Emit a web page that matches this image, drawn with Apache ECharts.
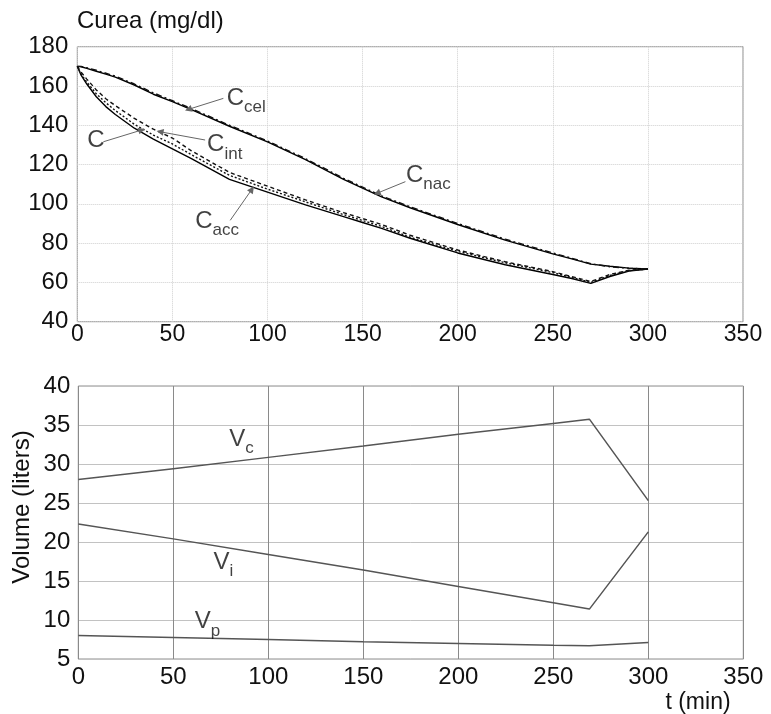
<!DOCTYPE html>
<html>
<head>
<meta charset="utf-8">
<script src="https://cdn.jsdelivr.net/npm/echarts@6/dist/echarts.min.js"></script>
<style>html,body{margin:0;padding:0;background:#fff;}#c{width:771px;height:714px;}</style>
</head>
<body>
<div id="c"></div>
<script>
// ---- top panel: urea concentration (mg/dl) ----
var tC = [0, 2, 5, 10, 15, 20, 30, 40, 50, 60, 80, 100, 120, 140, 150, 160, 175, 200, 225, 250, 260, 270, 280, 290, 300];
var C_main = [170, 165.5, 161, 154.5, 149.5, 145.5, 138.5, 133, 128, 123, 112.5, 106, 99.5, 93.5, 90.5, 87.5, 82.5, 75, 69, 64, 62, 59.5, 63, 65.8, 66.8];
var C_int  = [170, 167, 163.5, 158, 153.5, 150, 143.5, 138, 133.5, 127, 116, 109, 102, 95.5, 92.5, 89.5, 84, 76.5, 70.5, 65.5, 63, 60.5, 64, 66.2, 66.8];
var C_acc  = [170, 166, 162, 156, 151.5, 147.5, 140.5, 135, 130.5, 125, 114.5, 107.5, 101, 94.5, 91.5, 88.5, 83, 75.8, 70, 65, 62.5, 60, 63.5, 66, 66.8];
var C_nac  = [170, 169.8, 169, 167.5, 166, 164.5, 160.5, 155.8, 152, 148, 139.5, 131.5, 122.5, 112.5, 108, 103.5, 98, 89.5, 81.5, 74.5, 72, 69.3, 68.2, 67.3, 66.8];
var C_cel  = [170, 170, 169.3, 168, 166.5, 165, 161, 156.5, 152.5, 148.5, 140, 132, 123, 113, 108.5, 104, 98.5, 90, 82, 75, 72.3, 69.5, 68, 67.2, 66.8];

// ---- bottom panel: volumes (liters) ----
var tV = [0, 50, 100, 150, 200, 250, 269, 300];
var V_c = [28, 29.4, 30.85, 32.3, 33.8, 35.2, 35.75, 25.3];
var V_i = [22.3, 20.4, 18.4, 16.4, 14.3, 12.2, 11.4, 21.3];
var V_p = [8.0, 7.75, 7.5, 7.2, 7.0, 6.75, 6.7, 7.1];

var xTicks = [0, 50, 100, 150, 200, 250, 300, 350];

// annotation labels [t, value, main, subscript]
var topLabels = [
  [88.8, 152.3, 'C', 'cel'],
  [77.5, 128.7, 'C', 'int'],
  [9.8, 131, 'C', ''],
  [73.5, 89.7, 'C', 'acc'],
  [184.6, 113.1, 'C', 'nac']
];
// annotation arrows [fromT, fromV, toT, toV]
var topArrows = [
  [76.8, 153.7, 58.4, 148.1],
  [67.2, 132.5, 43.5, 136.7],
  [13.7, 131.6, 33.9, 137.6],
  [80.4, 91.6, 91.8, 107.4],
  [172.5, 111.3, 157.6, 105.4]
];
var botLabels = [
  [85.9, 32.8, 'V', 'c'],
  [76.4, 17.05, 'V', 'i'],
  [68, 9.4, 'V', 'p']
];

var FONT = 'Liberation Sans, Arial, sans-serif';
function pairs(t, v) { return t.map(function (x, i) { return [x, v[i]]; }); }

function lineSeries(name, t, v, idx, color, type, width) {
  return {
    name: name, type: 'line', xAxisIndex: idx, yAxisIndex: idx,
    data: pairs(t, v), showSymbol: false, symbol: 'none', smooth: false,
    lineStyle: { color: color, width: width, type: type }, silent: true, z: 3
  };
}

var rich = {
  m: { fontSize: 24, fontFamily: FONT, color: '#111', verticalAlign: 'top', padding: [0, 0, 6, 0] },
  s: { fontSize: 17, fontFamily: FONT, color: '#111', verticalAlign: 'bottom' }
};
function labelSeries(data, idx, arrows) {
  var s = {
    type: 'scatter', xAxisIndex: idx, yAxisIndex: idx, symbolSize: 1,
    itemStyle: { color: 'rgba(0,0,0,0)' }, silent: true, z: 5,
    data: data,
    label: {
      show: true, position: 'inside',
      formatter: function (p) {
        return '{m|' + p.data[2] + '}' + (p.data[3] ? '{s|' + p.data[3] + '}' : '');
      },
      rich: rich
    }
  };
  if (arrows) {
    s.markLine = {
      silent: true, animation: false,
      symbol: ['none', 'triangle'], symbolSize: 7,
      label: { show: false },
      lineStyle: { color: '#666', width: 1, type: 'solid' },
      data: arrows.map(function (a) { return [{ coord: [a[0], a[1]] }, { coord: [a[2], a[3]] }]; })
    };
  }
  return s;
}

var chart = echarts.init(document.getElementById('c'), null, { renderer: 'canvas' });
chart.setOption({
  animation: false,
  backgroundColor: '#fff',
  grid: [
    { left: 77.3, top: 46.7, width: 665.7, height: 275, show: true, borderColor: '#8c8c8c', borderWidth: 1, backgroundColor: 'transparent' },
    { left: 78.3, top: 386, width: 665, height: 273, show: true, borderColor: '#8c8c8c', borderWidth: 1, backgroundColor: 'transparent' }
  ],
  xAxis: [
    { gridIndex: 0, type: 'value', min: 0, max: 350, interval: 50,
      axisLine: { show: false }, axisTick: { show: false },
      axisLabel: { fontSize: 23, fontFamily: 'Liberation Sans Narrow, Arial Narrow, ' + FONT, color: '#111', margin: 1 },
      splitLine: { show: true, lineStyle: { color: '#cfcfcf', type: 'dotted', width: 1 } } },
    { gridIndex: 1, type: 'value', min: 0, max: 350, interval: 50,
      axisLine: { show: false }, axisTick: { show: false },
      axisLabel: { fontSize: 24, fontFamily: FONT, color: '#111', margin: 6 },
      splitLine: { show: true, lineStyle: { color: '#8a8a8a', type: 'solid', width: 1 } } }
  ],
  yAxis: [
    { gridIndex: 0, type: 'value', min: 40, max: 180, interval: 20,
      axisLine: { show: false }, axisTick: { show: false },
      axisLabel: { fontSize: 24, fontFamily: FONT, color: '#111', margin: 9 },
      splitLine: { show: true, lineStyle: { color: '#cfcfcf', type: 'dotted', width: 1 } } },
    { gridIndex: 1, type: 'value', min: 5, max: 40, interval: 5,
      axisLine: { show: false }, axisTick: { show: false },
      axisLabel: { fontSize: 24, fontFamily: FONT, color: '#111', margin: 8 },
      splitLine: { show: true, lineStyle: { color: '#c2c2c2', type: 'solid', width: 1 } } }
  ],
  graphic: [
    { type: 'text', left: 77, top: 9, style: { text: 'Curea (mg/dl)', font: '24px ' + FONT, fill: '#111' } },
    { type: 'text', x: 22, y: 507, rotation: Math.PI / 2,
      style: { text: 'Volume (liters)', font: '24px ' + FONT, fill: '#111', align: 'center', verticalAlign: 'middle' } },
    { type: 'text', x: 698, y: 703,
      style: { text: 't (min)', font: '23px ' + FONT, fill: '#111', align: 'center', verticalAlign: 'middle' } }
  ],
  series: [
    lineSeries('C', tC, C_main, 0, '#000', 'solid', 1.4),
    lineSeries('Cacc', tC, C_acc, 0, '#111', [2, 2], 1.4),
    lineSeries('Cint', tC, C_int, 0, '#111', [4, 3], 1.4),
    lineSeries('Cnac', tC, C_nac, 0, '#000', 'solid', 1.4),
    lineSeries('Ccel', tC, C_cel, 0, '#111', [6, 3, 2, 3], 1.4),
    lineSeries('Vc', tV, V_c, 1, '#555', 'solid', 1.5),
    lineSeries('Vi', tV, V_i, 1, '#555', 'solid', 1.5),
    lineSeries('Vp', tV, V_p, 1, '#555', 'solid', 1.5),
    labelSeries(topLabels, 0, topArrows),
    labelSeries(botLabels, 1, null)
  ]
});
</script>
</body>
</html>
